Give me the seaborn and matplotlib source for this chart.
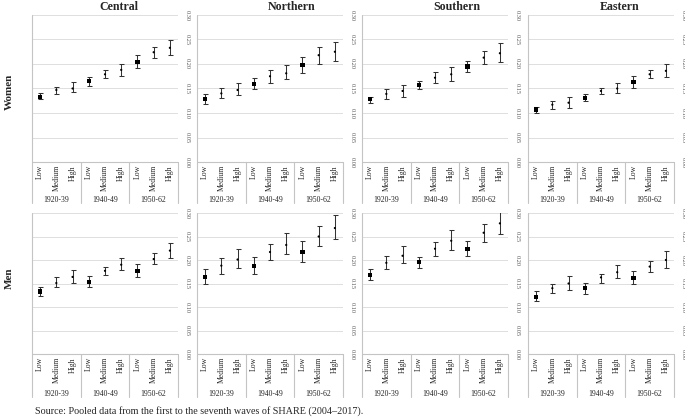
import numpy as np
import pandas as pd
import matplotlib
matplotlib.use("Agg")
import matplotlib.pyplot as plt
import seaborn as sns

regions = ["Central", "Northern", "Southern", "Eastern"]
genders = ["Women", "Men"]
education = ["Low", "Medium", "High"]
cohorts = ["1920-39", "1940-49", "1950-62"]
yticks = [0.00, 0.05, 0.10, 0.15, 0.20, 0.25, 0.30]
source = "Source: Pooled data from the first to the seventh waves of SHARE (2004\u20132017)."

# estimates (order: cohort 1920-39 Low/Medium/High, 1940-49 ..., 1950-62 ...)
women_central_est = [0.133, 0.147, 0.150, 0.165, 0.179, 0.188, 0.204, 0.224, 0.233]
women_central_lo = [0.128, 0.138, 0.142, 0.156, 0.172, 0.176, 0.192, 0.213, 0.218]
women_central_hi = [0.140, 0.153, 0.163, 0.174, 0.187, 0.201, 0.218, 0.234, 0.249]

women_northern_est = [0.129, 0.140, 0.147, 0.160, 0.175, 0.181, 0.198, 0.218, 0.225]
women_northern_lo = [0.119, 0.130, 0.136, 0.148, 0.162, 0.169, 0.181, 0.201, 0.207]
women_northern_hi = [0.139, 0.151, 0.161, 0.172, 0.187, 0.198, 0.215, 0.234, 0.245]

women_southern_est = [0.128, 0.139, 0.145, 0.157, 0.172, 0.179, 0.195, 0.213, 0.222]
women_southern_lo = [0.121, 0.129, 0.133, 0.149, 0.162, 0.166, 0.183, 0.201, 0.205]
women_southern_hi = [0.133, 0.148, 0.158, 0.166, 0.183, 0.194, 0.206, 0.227, 0.242]

women_eastern_est = [0.107, 0.117, 0.121, 0.131, 0.145, 0.150, 0.164, 0.179, 0.186]
women_eastern_lo = [0.099, 0.109, 0.110, 0.124, 0.138, 0.140, 0.152, 0.171, 0.174]
women_eastern_hi = [0.113, 0.124, 0.132, 0.138, 0.151, 0.161, 0.175, 0.188, 0.201]

men_central_est = [0.133, 0.151, 0.164, 0.154, 0.177, 0.190, 0.177, 0.202, 0.220]
men_central_lo = [0.123, 0.143, 0.152, 0.143, 0.168, 0.178, 0.164, 0.192, 0.204]
men_central_hi = [0.143, 0.164, 0.179, 0.165, 0.185, 0.204, 0.192, 0.215, 0.236]

men_northern_est = [0.163, 0.188, 0.201, 0.188, 0.217, 0.232, 0.217, 0.250, 0.268]
men_northern_lo = [0.148, 0.171, 0.183, 0.171, 0.199, 0.213, 0.196, 0.229, 0.245]
men_northern_hi = [0.180, 0.205, 0.224, 0.207, 0.235, 0.257, 0.241, 0.272, 0.296]

men_southern_est = [0.168, 0.194, 0.209, 0.195, 0.224, 0.241, 0.224, 0.258, 0.278]
men_southern_lo = [0.157, 0.180, 0.193, 0.184, 0.209, 0.222, 0.208, 0.239, 0.255]
men_southern_hi = [0.181, 0.209, 0.230, 0.207, 0.239, 0.263, 0.240, 0.277, 0.304]

men_eastern_est = [0.122, 0.140, 0.150, 0.140, 0.163, 0.174, 0.161, 0.186, 0.200]
men_eastern_lo = [0.112, 0.130, 0.137, 0.128, 0.152, 0.161, 0.148, 0.175, 0.184]
men_eastern_hi = [0.134, 0.150, 0.166, 0.152, 0.170, 0.189, 0.176, 0.198, 0.219]

series = {
    ("Women", "Central"): (women_central_est, women_central_lo, women_central_hi),
    ("Women", "Northern"): (women_northern_est, women_northern_lo, women_northern_hi),
    ("Women", "Southern"): (women_southern_est, women_southern_lo, women_southern_hi),
    ("Women", "Eastern"): (women_eastern_est, women_eastern_lo, women_eastern_hi),
    ("Men", "Central"): (men_central_est, men_central_lo, men_central_hi),
    ("Men", "Northern"): (men_northern_est, men_northern_lo, men_northern_hi),
    ("Men", "Southern"): (men_southern_est, men_southern_lo, men_southern_hi),
    ("Men", "Eastern"): (men_eastern_est, men_eastern_lo, men_eastern_hi),
}

sns.set_theme(style="white")
plt.rcParams["font.family"] = ["Liberation Serif", "DejaVu Serif"]

W, H = 685, 419
fig = plt.figure(figsize=(W / 100, H / 100), dpi=100)

col_left = [32, 197, 362, 528]
col_width = 146
title_x = [119, 292, 457, 620]
row_geom = {"Women": (15, 162, 41), "Men": (213, 354, 43)}  # top px, bottom px, label depth px

grid_c = "#dedede"
frame_c = "#c4c4c4"

for gender in genders:
    top_px, bot_px, depth = row_geom[gender]
    h_px = bot_px - top_px
    for j, region in enumerate(regions):
        ax = fig.add_axes([col_left[j] / W, 1 - bot_px / H, col_width / W, h_px / H])
        est, lo, hi = series[(gender, region)]
        df = pd.DataFrame({
            "x": np.arange(9),
            "est": est,
            "lo": lo,
            "hi": hi,
            "edu": education * 3,
        })
        ax.errorbar(df["x"], df["est"], yerr=[df["est"] - df["lo"], df["hi"] - df["est"]],
                    fmt="none", ecolor="#333333", elinewidth=0.75, capsize=1.8,
                    capthick=0.75, zorder=3)
        sns.scatterplot(data=df, x="x", y="est", style="edu", size="edu",
                        markers={"Low": "s", "Medium": "o", "High": "o"},
                        sizes={"Low": 9, "Medium": 2.5, "High": 2.5},
                        color="black", edgecolor="black", linewidth=0,
                        legend=False, ax=ax, zorder=4)
        ax.set_xlim(-0.5, 8.5)
        ax.set_ylim(0, 0.30)
        ax.set_yticks(yticks)
        ax.set_yticklabels([f"{t:.2f}" for t in yticks])
        ax.yaxis.tick_right()
        ax.tick_params(axis="y", length=0, pad=4.5, labelsize=4.6,
                       labelcolor="#595959", labelrotation=-90)
        for lab in ax.get_yticklabels():
            lab.set_va("center")
        ax.set_xticks(np.arange(9))
        ax.set_xticklabels(education * 3, rotation=90, va="top", ha="center")
        ax.tick_params(axis="x", length=0, pad=2.2, labelsize=5.6, labelcolor="#262626")
        ax.set_xlabel("")
        ax.set_ylabel("")
        ax.grid(axis="y", color=grid_c, linewidth=0.7)
        ax.grid(axis="x", visible=False)
        for s in ax.spines.values():
            s.set_visible(False)
        ax.axhline(0, color=frame_c, linewidth=0.8, zorder=2, clip_on=False)
        d = depth / h_px
        tr = ax.get_xaxis_transform()
        ax.plot([-0.5, -0.5], [1, -d], color=frame_c, linewidth=0.8, transform=tr, clip_on=False)
        for xb in [2.5, 5.5, 8.5]:
            ax.plot([xb, xb], [0, -d], color=frame_c, linewidth=0.8, transform=tr, clip_on=False)
        for k, c in enumerate(cohorts):
            ax.text(1 + 3 * k, -(depth - 3) / h_px, c, transform=tr, ha="center", va="center",
                    fontsize=5.6, color="#262626")

for j, region in enumerate(regions):
    fig.text(title_x[j] / W, 1 - 6.5 / H, region, ha="center", va="center",
             fontsize=8.6, fontweight="bold")

fig.text(9 / W, 1 - 92 / H, "Women", rotation=90, ha="center", va="center",
         fontsize=8, fontweight="bold")
fig.text(9 / W, 1 - 278 / H, "Men", rotation=90, ha="center", va="center",
         fontsize=8, fontweight="bold")
fig.text(35 / W, 1 - 411 / H, source, ha="left", va="center", fontsize=7.3)

fig.savefig("out.png", dpi=100)
